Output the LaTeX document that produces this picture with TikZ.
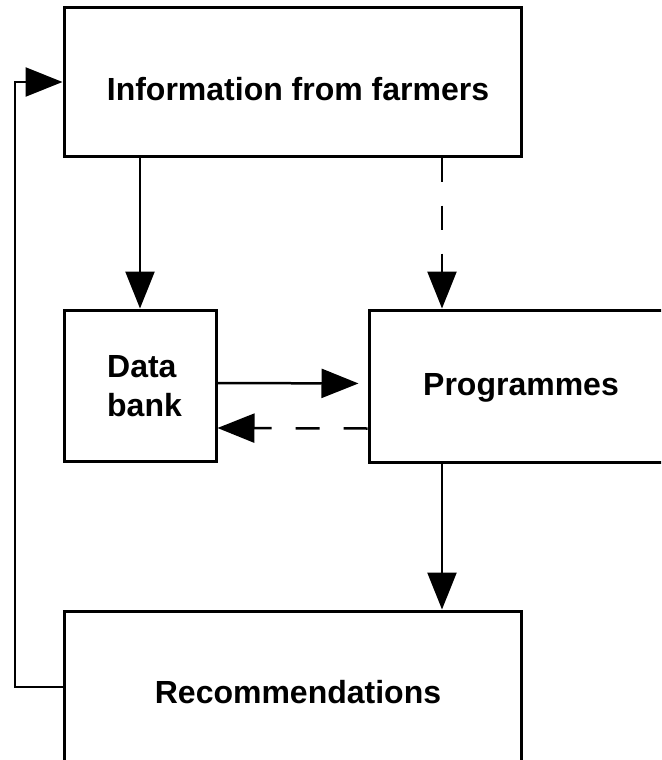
\documentclass[tikz,border=0pt]{standalone}
\usepackage{fontspec}
\setmainfont{Liberation Sans}
\usetikzlibrary{arrows.meta}
\begin{document}
\begin{tikzpicture}[x=1pt,y=-1pt,
  box/.style={draw, line width=3pt, rectangle, inner sep=0pt},
  caption/.style={inner sep=0pt, align=left,
    font=\fontsize{32}{39}\selectfont\bfseries},
  conn/.style={line width=2.5pt, -{Triangle[length=37pt,width=29pt]}},
  dashconn/.style={conn, dash pattern=on 24pt off 24pt}]
\useasboundingbox (0,0) rectangle (661,760);
\clip (0,0) rectangle (661,760);

% boxes
\node[box, minimum width=457pt, minimum height=148pt] (info) at (292.5,82) {};
\node[box, minimum width=152pt, minimum height=151pt] (bank) at (140,385.5) {};
\node[box, minimum width=300pt, minimum height=152pt] (prog) at (519,386) {};
\node[box, minimum width=457pt, minimum height=152pt] (rec) at (292.5,687) {};

% box texts
\node[caption, anchor=base] (infotxt) at (298,100) {Information from farmers};
\node[caption] (banktxt) at (144.5,386) {Data\\bank};
\node[caption, anchor=base] (progtxt) at (521,395) {Programmes};
\node[caption, anchor=base] (rectxt) at (298,703) {Recommendations};

% flows
\draw[conn] (info.south -| bank) -- (bank.north);
\draw[dashconn] (info.south -| 442,0) -- (prog.north -| 442,0);
\draw[conn, shorten >=9pt] ([yshift=2.5pt]bank.east) -- ([yshift=2.5pt]prog.west);
\draw[dashconn] ([yshift=-42.5pt]prog.west) -- ([yshift=-42.5pt]bank.east);
\draw[conn] (prog.south -| 442,0) -- (rec.north -| 442,0);

% feedback loop
\coordinate (loopbot) at (15,687);
\coordinate (looptop) at (15,82);
\draw[conn] (rec.west) -- (loopbot) -- (looptop) -- (info.west);
\end{tikzpicture}
\end{document}
